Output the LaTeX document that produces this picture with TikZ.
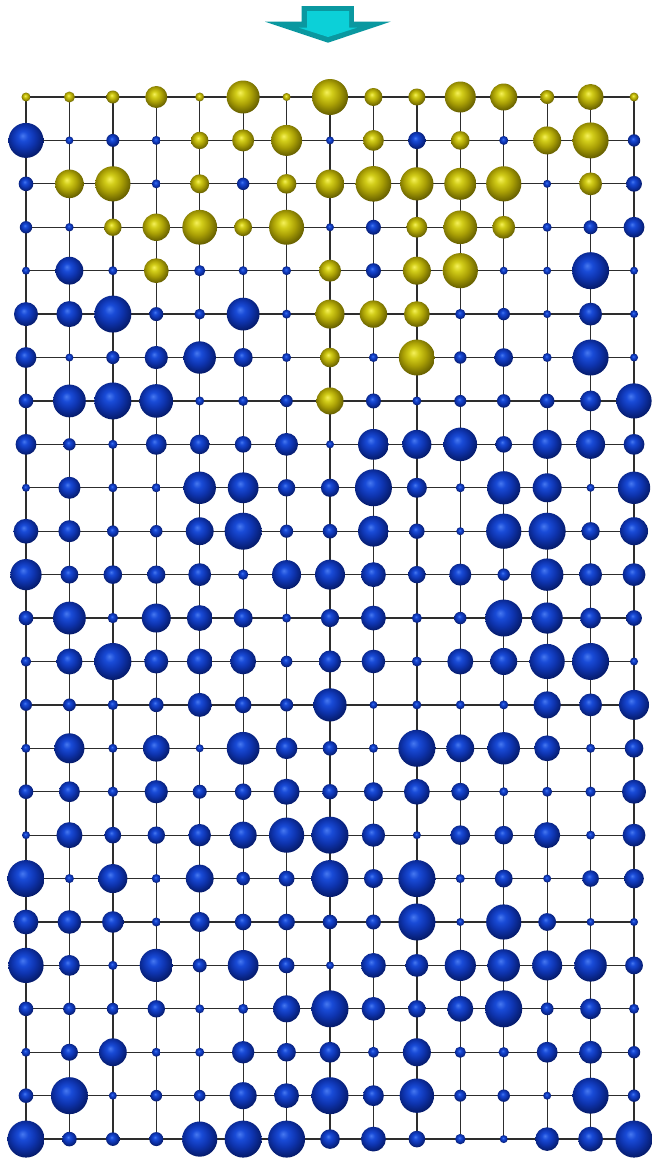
\documentclass[tikz,border=0pt]{standalone}
\definecolor{bA}{RGB}{70,120,240}
\definecolor{bB}{RGB}{25,75,215}
\definecolor{bC}{RGB}{14,52,175}
\definecolor{bD}{RGB}{6,28,110}
\definecolor{yA}{RGB}{245,240,90}
\definecolor{yB}{RGB}{210,205,25}
\definecolor{yC}{RGB}{170,160,5}
\definecolor{yD}{RGB}{105,98,0}
\definecolor{arrdark}{RGB}{10,152,160}
\definecolor{arrlight}{RGB}{12,208,216}
\definecolor{gridc}{RGB}{45,45,45}
\pgfdeclareradialshading{bball}{\pgfpoint{-5bp}{7bp}}{color(0bp)=(bA); color(7bp)=(bB); color(16bp)=(bC); color(27bp)=(bD); color(50bp)=(bD)}
\pgfdeclareradialshading{yball}{\pgfpoint{-5bp}{7bp}}{color(0bp)=(yA); color(7bp)=(yB); color(16bp)=(yC); color(27bp)=(yD); color(50bp)=(yD)}
\tikzset{
  gridline/.style={draw=gridc, line width=1.3pt},
  ballB/.style={circle, inner sep=0pt, outer sep=0pt, shading=bball},
  ballY/.style={circle, inner sep=0pt, outer sep=0pt, shading=yball},
}
\expandafter\def\csname rowdata1\endcsname{Y/4.5,Y/5.5,Y/6.5,Y/11,Y/4.5,Y/16.5,Y/4,Y/18,Y/9,Y/8.5,Y/15.5,Y/13.5,Y/7,Y/13,Y/4.5}
\expandafter\def\csname rowdata2\endcsname{B/17.5,B/4,B/6.5,B/4.5,Y/8.7,Y/11,Y/15.5,B/4,Y/10.4,B/8.7,Y/9.3,B/4.5,Y/14,Y/18,B/6.2}
\expandafter\def\csname rowdata3\endcsname{B/7.3,Y/14.3,Y/17.6,B/4.5,Y/9.5,B/6.2,Y/9.8,Y/14.3,Y/17.8,Y/16.6,Y/16,Y/17.6,B/4,Y/11.4,B/7.9}
\expandafter\def\csname rowdata4\endcsname{B/6.2,B/4.2,Y/8.7,Y/13.7,Y/17.4,Y/8.9,Y/17.5,B/4,B/7.5,Y/10.4,Y/16.8,Y/11.4,B/4.5,B/7,B/10.4}
\expandafter\def\csname rowdata5\endcsname{B/4,B/13.9,B/4.5,Y/12.4,B/5.6,B/4.5,B/4.5,Y/11,B/7.5,Y/14,Y/17.6,B/4,B/4,B/18.5,B/4}
\expandafter\def\csname rowdata6\endcsname{B/12,B/13,B/18.5,B/7,B/5.4,B/16.4,B/4.5,Y/14.5,Y/13.7,Y/12.9,B/5.2,B/6.2,B/4,B/11.4,B/4}
\expandafter\def\csname rowdata7\endcsname{B/10.4,B/4,B/6.6,B/11.6,B/16.2,B/9.5,B/4.5,Y/9.8,B/4.5,Y/18,B/6.2,B/9.3,B/4.5,B/18,B/4}
\expandafter\def\csname rowdata8\endcsname{B/7.3,B/16.4,B/18.5,B/16.8,B/4.5,B/5,B/6.2,Y/13.5,B/7.5,B/4.5,B/6,B/6.8,B/7.3,B/10.4,B/17.6}
\expandafter\def\csname rowdata9\endcsname{B/10.4,B/6.2,B/4.6,B/10.4,B/9.8,B/8.3,B/11.4,B/4,B/15.4,B/14.5,B/16.8,B/8.3,B/14.5,B/14.5,B/10.4}
\expandafter\def\csname rowdata10\endcsname{B/4,B/11,B/4.5,B/4.5,B/16.2,B/15.4,B/8.7,B/9.1,B/18.5,B/10,B/4.5,B/16.6,B/14.5,B/4,B/16.2}
\expandafter\def\csname rowdata11\endcsname{B/12.4,B/11,B/5.8,B/6.2,B/13.9,B/18.5,B/6.6,B/7.3,B/15.4,B/7.7,B/4,B/17.6,B/18.5,B/9.1,B/14}
\expandafter\def\csname rowdata12\endcsname{B/15.6,B/8.9,B/9.3,B/9.1,B/11.4,B/5.2,B/14.5,B/15,B/12.4,B/8.7,B/11,B/6.2,B/16.2,B/11.4,B/11.4}
\expandafter\def\csname rowdata13\endcsname{B/7.3,B/16.4,B/5.2,B/14.5,B/12.9,B/9.5,B/4.5,B/9.1,B/12.4,B/5,B/6.2,B/18.5,B/15.6,B/10.4,B/7.9}
\expandafter\def\csname rowdata14\endcsname{B/5.2,B/13,B/18.5,B/12,B/12.9,B/12.9,B/5.8,B/11,B/11.8,B/5,B/13,B/13.5,B/17.6,B/18.5,B/4}
\expandafter\def\csname rowdata15\endcsname{B/6,B/6.4,B/5.2,B/7.3,B/12,B/8.3,B/6.6,B/16.6,B/4,B/4.5,B/4.5,B/4.5,B/13.5,B/11.4,B/15}
\expandafter\def\csname rowdata16\endcsname{B/4.5,B/15,B/4.5,B/13.3,B/4,B/16.4,B/10.8,B/7.3,B/4.5,B/18.5,B/13.9,B/16.2,B/12.9,B/4.5,B/9.3}
\expandafter\def\csname rowdata17\endcsname{B/7.3,B/10.4,B/5.2,B/11.6,B/7,B/8.3,B/13,B/7.7,B/9.5,B/12.9,B/8.9,B/4.5,B/5,B/5.2,B/12}
\expandafter\def\csname rowdata18\endcsname{B/4,B/13,B/8.3,B/8.7,B/11.2,B/13.5,B/17.6,B/18.5,B/11.6,B/4,B/9.8,B/9.3,B/13,B/4.5,B/11.4}
\expandafter\def\csname rowdata19\endcsname{B/18.5,B/4.5,B/14.5,B/4.5,B/13.9,B/6.8,B/7.9,B/18.5,B/9.5,B/18.5,B/4.5,B/8.9,B/4,B/8.3,B/9.8}
\expandafter\def\csname rowdata20\endcsname{B/12.4,B/11.8,B/10.8,B/4.5,B/10,B/8.3,B/8.3,B/7.3,B/7.5,B/18.5,B/4,B/17.6,B/8.9,B/4,B/4}
\expandafter\def\csname rowdata21\endcsname{B/17.6,B/10.4,B/4.6,B/16.6,B/7,B/15.4,B/7.9,B/4,B/12.4,B/11.4,B/15.6,B/16.2,B/15,B/16.2,B/8.9}
\expandafter\def\csname rowdata22\endcsname{B/7.3,B/6.2,B/6,B/8.7,B/4.5,B/5,B/13.5,B/18.5,B/11.8,B/8.7,B/13,B/18.5,B/6.4,B/10.4,B/5}
\expandafter\def\csname rowdata23\endcsname{B/4.5,B/8.5,B/13.9,B/4.5,B/4.5,B/11.2,B/9.3,B/10.4,B/5.5,B/14,B/5.6,B/5.2,B/10.4,B/11.4,B/6.2}
\expandafter\def\csname rowdata24\endcsname{B/7.3,B/18.5,B/4,B/5.8,B/5.8,B/13.5,B/12.4,B/18.5,B/10.4,B/17.2,B/6,B/6.2,B/4,B/18,B/6.2}
\expandafter\def\csname rowdata25\endcsname{B/18.5,B/7.3,B/6.8,B/7,B/17.6,B/18.5,B/18.5,B/9.8,B/12.4,B/8.3,B/5.2,B/4,B/11.8,B/12.4,B/18.5}
\begin{document}
\begin{tikzpicture}[x=1pt,y=-1pt]
\useasboundingbox (0,0) rectangle (655,1159);
\fill[white] (0,0) rectangle (655,1159);
% arrow
\fill[arrdark] (301.6,6) -- (353.8,6) -- (353.8,21.7) -- (390.6,21.7) -- (328,42.7) -- (265,21.7) -- (301.6,21.7) -- cycle;
\fill[arrlight] (307,11) -- (349,11) -- (349,27.7) -- (357,27.7) -- (328,37) -- (299,27.7) -- (307,27.7) -- cycle;
% lattice points
\foreach \r in {1,...,25}{
  \foreach \c in {1,...,15}{
    \coordinate (p-\r-\c) at ({26+(\c-1)*43.43},{97+(\r-1)*43.42});
  }
}
\foreach \r in {1,...,25} \draw[gridline] (p-\r-1) -- (p-\r-15);
\foreach \c in {1,...,15} \draw[gridline] (p-1-\c) -- (p-25-\c);
% spheres
\foreach \r in {1,...,25}{
  \expandafter\let\expandafter\currow\csname rowdata\r\endcsname
  \foreach \k/\s [count=\c] in \currow {
    \node[ball\k, minimum size={2*\s}] (s-\r-\c) at (p-\r-\c) {};
  }
}
\end{tikzpicture}
\end{document}
